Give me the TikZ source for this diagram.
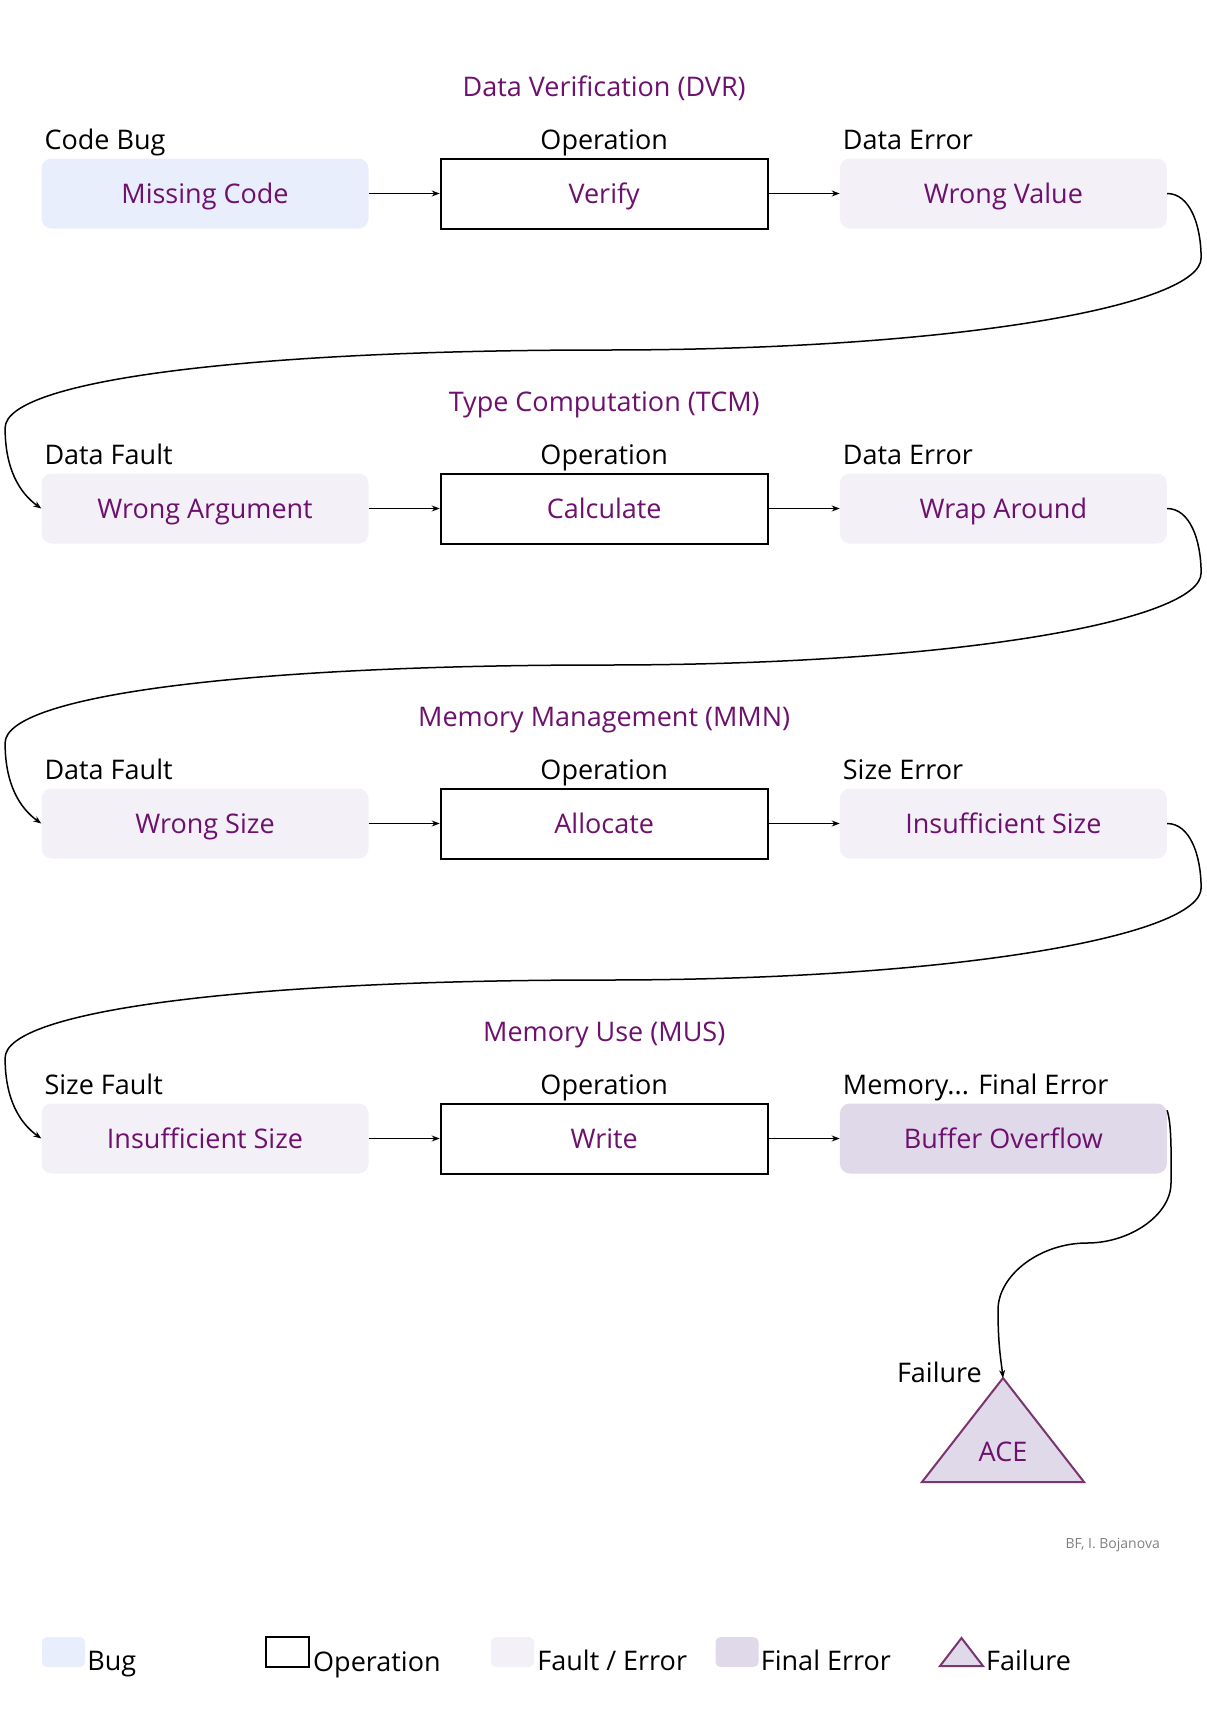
\documentclass[tikz,border=0pt]{standalone}
\usepackage{fontspec}
\setmainfont{Open Sans}
\usetikzlibrary{positioning,chains,arrows.meta}
\definecolor{bfpurple}{RGB}{110,16,110}
\definecolor{bugfill}{RGB}{232,238,251}
\definecolor{faultfill}{RGB}{243,240,247}
\definecolor{finalfill}{RGB}{223,217,233}
\definecolor{failline}{RGB}{122,52,110}
\tikzset{
	bf flow/.style={
		x=1pt,y=-1pt, % picture pixels, y down
		node distance=71pt,
		every join/.style={flow},
		font=\fontsize{27}{32}\selectfont
	},
	flow/.style={
		-{Stealth[length=8pt,width=6pt]},
		line width=1.5pt
	},
	stage/.style={
		on chain,
		minimum width=327pt,
		minimum height=70pt,
		inner sep=0pt,
		text=bfpurple,
		text height=19pt,text depth=0pt % centre the caps
	},
	bug/.style={
		stage,
		rounded corners=10pt,
		fill=bugfill
	},
	operation/.style={
		stage,
		draw,
		line width=2pt,
		fill=white
	},
	fault/.style={
		stage,
		rounded corners=10pt,
		fill=faultfill
	},
	final error/.style={
		stage,
		rounded corners=10pt,
		fill=finalfill
	},
	tag/.style={
		inner sep=0pt,
		anchor=base west
	},
	op tag/.style={
		inner sep=0pt,
		anchor=base
	},
	class title/.style={
		inner sep=0pt,
		anchor=base,
		text=bfpurple
	},
	failure shape/.style={
		fill=finalfill,
		draw=failline,
		line width=2pt
	},
	key/.style={
		minimum width=43pt,
		minimum height=30pt,
		inner sep=0pt
	},
	credit/.style={
		inner sep=0pt,
		anchor=base east,
		text=gray,
		font=\fontsize{14}{16}\selectfont
	}
}

\begin{document}
\begin{tikzpicture}[bf flow]
	\useasboundingbox (0,0) rectangle (1207,1727);
	% Data Verification
	\begin{scope}[start chain=dvr going right]
		\node[bug] (dvr bug) at (205,193.5) {Missing Code};
		\node[operation,join] (dvr op) {Verify};
		\node[fault,join] (dvr err) {Wrong Value};
	\end{scope}
	\node[tag] (dvr bug tag) at ([xshift=3pt,yshift=9pt]dvr bug.north west) {Code Bug};
	\node[op tag] (dvr op tag) at ([yshift=8pt]dvr op.north) {Operation};
	\node[tag] (dvr err tag) at ([xshift=3pt,yshift=9pt]dvr err.north west) {Data Error};
	\node[class title] (dvr title) at ([yshift=61pt]dvr op.north) {Data Verification (DVR)};

	% Type Computation
	\begin{scope}[start chain=tcm going right]
		\node[fault] (tcm bug) at (205,508.5) {Wrong Argument};
		\node[operation,join] (tcm op) {Calculate};
		\node[fault,join] (tcm err) {Wrap Around};
	\end{scope}
	\node[tag] (tcm bug tag) at ([xshift=3pt,yshift=9pt]tcm bug.north west) {Data Fault};
	\node[op tag] (tcm op tag) at ([yshift=8pt]tcm op.north) {Operation};
	\node[tag] (tcm err tag) at ([xshift=3pt,yshift=9pt]tcm err.north west) {Data Error};
	\node[class title] (tcm title) at ([yshift=61pt]tcm op.north) {Type Computation (TCM)};

	% Memory Management
	\begin{scope}[start chain=mmn going right]
		\node[fault] (mmn bug) at (205,823.5) {Wrong Size};
		\node[operation,join] (mmn op) {Allocate};
		\node[fault,join] (mmn err) {Insufficient Size};
	\end{scope}
	\node[tag] (mmn bug tag) at ([xshift=3pt,yshift=9pt]mmn bug.north west) {Data Fault};
	\node[op tag] (mmn op tag) at ([yshift=8pt]mmn op.north) {Operation};
	\node[tag] (mmn err tag) at ([xshift=3pt,yshift=9pt]mmn err.north west) {Size Error};
	\node[class title] (mmn title) at ([yshift=61pt]mmn op.north) {Memory Management (MMN)};

	% Memory Use
	\begin{scope}[start chain=mus going right]
		\node[fault] (mus bug) at (205,1138.5) {Insufficient Size};
		\node[operation,join] (mus op) {Write};
		\node[final error,join] (mus err) {Buffer Overflow};
	\end{scope}
	\node[tag] (mus bug tag) at ([xshift=3pt,yshift=9pt]mus bug.north west) {Size Fault};
	\node[op tag] (mus op tag) at ([yshift=8pt]mus op.north) {Operation};
	\node[tag] (mus err tag) at ([xshift=3pt,yshift=9pt]mus err.north west) {Memory... Final Error};
	\node[class title] (mus title) at ([yshift=61pt]mus op.north) {Memory Use (MUS)};

	% wrap from one class to the next
	\foreach \from/\to in {dvr err/tcm bug,tcm err/mmn bug,mmn err/mus bug}
		\draw[flow] (\from.east) .. controls +(23,0) and +(0,-32.5) .. ++(34,64.5)
			.. controls +(0,47) and +(355,0) .. ++(-596,92)
			.. controls +(-355,0) and +(0,-48) .. ++(-600,78)
			.. controls +(0,42) and +(-21,-15) .. (\to.west);

	% failure
	\coordinate (ace apex) at (1003,1378);
	\draw[failure shape] (ace apex) -- ++(81,104) -- ++(-162,0) -- cycle;
	\node[inner sep=0pt,text=bfpurple,text height=19pt,text depth=0pt] (ace) at (1003,1451.5) {ACE};
	\node[inner sep=0pt,anchor=base east] (ace tag) at ([xshift=-21pt,yshift=-4pt]ace apex) {Failure};
	\draw[flow] ([yshift=-7pt]mus err.north east) .. controls +(5,15) and (1171,1160) .. (1171,1183)
		.. controls (1171,1215) and (1130,1243) .. (1087,1243)
		.. controls (1040,1243) and (998,1275) .. (998,1310)
		.. controls (998,1345) and (1001,1360) .. (ace apex);

	\node[credit] (credit) at (1160,1548) {BF, I. Bojanova};

	% legend
	\node[key,rounded corners=5pt,fill=bugfill] (key bug) at (63.5,1652) {};
	\node[tag] (key bug text) at ([shift={(2,3)}]key bug.south east) {Bug};
	\node[key,draw,line width=2pt] (key op) at (287.5,1652) {};
	\node[tag] (key op text) at ([shift={(3,3)}]key op.south east) {Operation};
	\node[key,rounded corners=5pt,fill=faultfill] (key fault) at (512.5,1652) {};
	\node[tag] (key fault text) at ([shift={(3,3)}]key fault.south east) {Fault / Error};
	\node[key,rounded corners=5pt,fill=finalfill] (key final) at (737,1652) {};
	\node[tag] (key final text) at ([shift={(2,3)}]key final.south east) {Final Error};
	\coordinate (key fail) at (961.5,1638);
	\draw[failure shape] (key fail) -- ++(21.5,28) -- ++(-43,0) -- cycle;
	\node[tag] (key fail text) at (986,1670) {Failure};
\end{tikzpicture}
\end{document}
